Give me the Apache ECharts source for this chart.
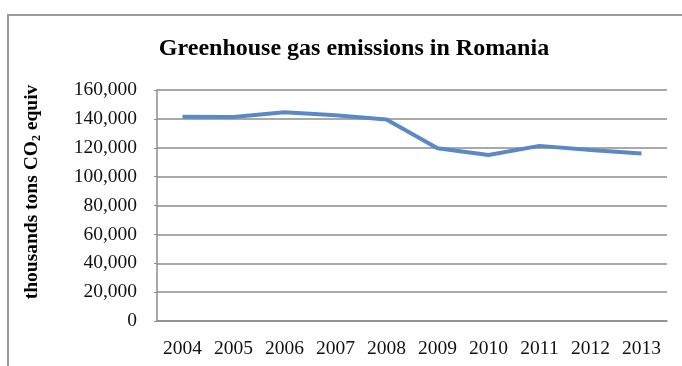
<!DOCTYPE html>
<html>
<head>
<meta charset="utf-8">
<script src="https://cdn.jsdelivr.net/npm/echarts@6/dist/echarts.min.js"></script>
<style>
  html, body { margin: 0; padding: 0; background: #fff; }
  #chart { width: 682px; height: 366px; }
</style>
</head>
<body>
<div id="chart"></div>
<script>
// Greenhouse gas emissions in Romania, thousands of tonnes CO2 equivalent
const years = ['2004', '2005', '2006', '2007', '2008', '2009', '2010', '2011', '2012', '2013'];
const emissions = [141400, 141300, 144600, 142500, 139500, 119700, 115000, 121300, 118500, 116100];
const yTicks = [0, 20000, 40000, 60000, 80000, 100000, 120000, 140000, 160000];

const chart = echarts.init(document.getElementById('chart'), null, { renderer: 'canvas' });

const serif = 'Liberation Serif';

chart.setOption({
  animation: false,
  backgroundColor: '#ffffff',
  title: {
    text: 'Greenhouse gas emissions in Romania',
    left: 349,
    textAlign: 'center',
    top: 32,
    textStyle: { fontFamily: serif, fontWeight: 'bold', fontSize: 24, color: '#000' }
  },
  graphic: [
    {
      type: 'rect',
      shape: { x: 8, y: 15, width: 720, height: 420 },
      style: { fill: null, stroke: '#9a9a9a', lineWidth: 2 },
      silent: true
    },
    {
      type: 'text',
      x: 32,
      y: 192,
      rotation: Math.PI / 2,
      style: {
        text: '{a|thousands tons CO}{s|2}{a| equiv}',
        align: 'center',
        verticalAlign: 'middle',
        rich: {
          a: { fontFamily: serif, fontWeight: 'bold', fontSize: 19.5, fill: '#000' },
          s: { fontFamily: serif, fontWeight: 'bold', fontSize: 12, fill: '#000', padding: [9, 0, 0, 0] }
        }
      }
    }
  ],
  grid: { left: 157, right: 15, top: 90, bottom: 45, containLabel: false },
  xAxis: {
    type: 'category',
    data: years,
    boundaryGap: true,
    axisLine: { lineStyle: { color: '#8c8c8c', width: 1.5 } },
    axisTick: { show: false },
    axisLabel: { interval: 0, fontFamily: serif, fontSize: 19.5, color: '#111', margin: 18 }
  },
  yAxis: {
    type: 'value',
    min: yTicks[0],
    max: yTicks[yTicks.length - 1],
    interval: yTicks[1] - yTicks[0],
    axisLine: { show: true, lineStyle: { color: '#8c8c8c', width: 1.5 } },
    axisTick: { show: true, length: 3, lineStyle: { color: '#8c8c8c' } },
    splitLine: { lineStyle: { color: '#8c8c8c', width: 1.5 } },
    axisLabel: {
      fontFamily: serif, fontSize: 19.5, color: '#111', margin: 20,
      formatter: v => v.toLocaleString('en-US')
    }
  },
  series: [{
    type: 'line',
    data: emissions,
    showSymbol: false,
    symbol: 'none',
    lineStyle: { color: '#5a8ac6', width: 4 },
    itemStyle: { color: '#5a8ac6' }
  }]
});
</script>
</body>
</html>
